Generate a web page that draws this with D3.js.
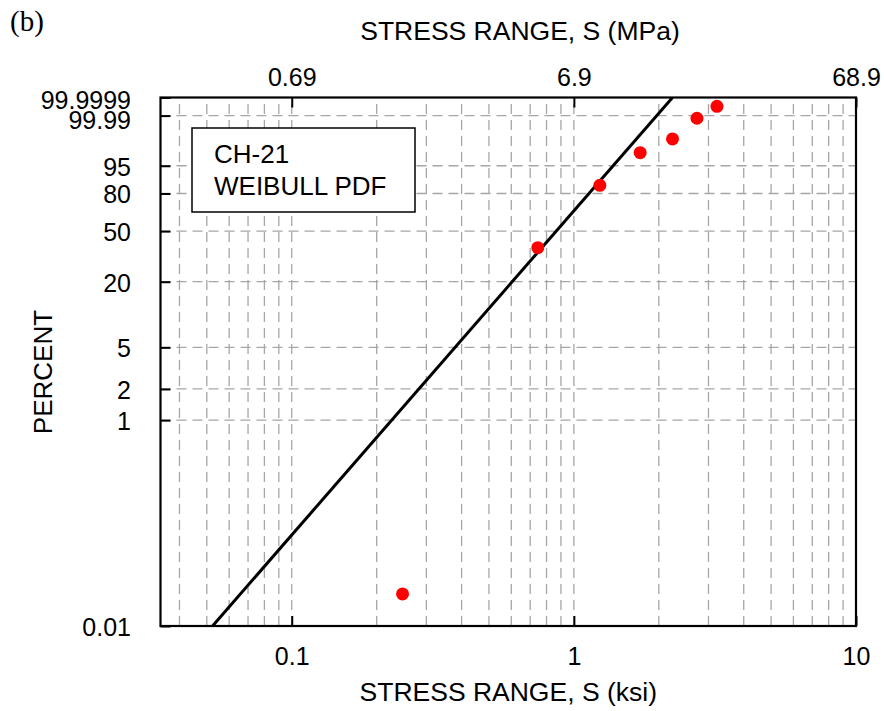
<!DOCTYPE html>
<html>
<head>
<meta charset="utf-8">
<script src="https://cdn.jsdelivr.net/npm/d3@7"></script>
<style>
  html, body { margin: 0; padding: 0; background: #fff; }
  svg { display: block; }
  text { font-family: Arial, "Liberation Sans", sans-serif; fill: #000; }
  text.serif { font-family: "Liberation Serif", "Times New Roman", serif; }
</style>
</head>
<body>
<svg id="chart" width="884" height="711"></svg>
<script>
// ---------------- data ----------------
const panelLabel = "(b)";
const legendLines = ["CH-21", "WEIBULL PDF"];

// measured stress ranges (ksi) and cumulative percent
const pointStress  = [0.247, 0.745, 1.236, 1.718, 2.237, 2.731, 3.215];
const pointPercent = [0.0205, 38.0, 85.5, 98.19, 99.574, 99.983, 99.9988];

// fitted Weibull line (two end points, ksi / percent)
const fitStress  = [0.0524, 2.237];
const fitPercent = [0.01, 99.9999];

// axis ticks
const xTicksKsi   = [0.1, 1, 10];
const xTickLabels = ["0.1", "1", "10"];
const topTicksMPa   = [0.6895, 6.895, 68.95];
const topTickLabels = ["0.69", "6.9", "68.9"];
const yTicks      = [0.01, 1, 2, 5, 20, 50, 80, 95, 99.99, 99.9999];
const yTickLabels = ["0.01", "1", "2", "5", "20", "50", "80", "95", "99.99", "99.9999"];

const xTitle = "STRESS RANGE, S (ksi)";
const topTitle = "STRESS RANGE, S (MPa)";
const yTitle = "PERCENT";
const KSI_TO_MPA = 6.895;

// ---------------- layout ----------------
const L = 160.5, R = 856, T = 97.5, B = 626;
const svg = d3.select("#chart");

const wb = p => Math.log(-Math.log(1 - p / 100));
const xMin = Math.pow(10, -1.4652);
const x = d3.scaleLog().domain([xMin, 10]).range([L, R]);
const xTop = d3.scaleLog().domain([xMin * KSI_TO_MPA, 10 * KSI_TO_MPA]).range([L, R]);
const y = d3.scaleLinear().domain([wb(0.01), wb(99.9999)]).range([B, T]);

// clip
svg.append("defs").append("clipPath").attr("id", "plotclip")
  .append("rect").attr("x", L).attr("y", T).attr("width", R - L).attr("height", B - T);

// ---------------- grid ----------------
const gridX = [];
for (let e = -2; e <= 1; e++) {
  for (let m = 1; m <= 9; m++) {
    const v = m * Math.pow(10, e);
    if (v > xMin * 1.001 && v < 10 * 0.999) gridX.push(v);
  }
}
const grid = svg.append("g").attr("stroke", "#a6a6a6").attr("stroke-width", 1.3)
  .attr("stroke-dasharray", "10,6").attr("fill", "none");
grid.selectAll("line.v").data(gridX).enter().append("line")
  .attr("class", "v")
  .attr("x1", d => x(d)).attr("x2", d => x(d))
  .attr("y1", B).attr("y2", T);
grid.selectAll("line.h").data(yTicks.slice(1, -1)).enter().append("line")
  .attr("class", "h")
  .attr("y1", d => y(wb(d))).attr("y2", d => y(wb(d)))
  .attr("x1", L).attr("x2", R);

// ---------------- axes ----------------
const tickLen = 10;
const fontTick = 25;

// bottom axis
const axB = d3.axisBottom(x).tickValues(xTicksKsi).tickSize(-tickLen)
  .tickFormat((d, i) => xTickLabels[i]);
const gB = svg.append("g").attr("transform", `translate(0,${B})`).call(axB);
gB.select(".domain").remove();
gB.selectAll(".tick line").attr("stroke", "#000").attr("stroke-width", 2);
gB.selectAll(".tick text").attr("font-size", fontTick).attr("y", 0).attr("dy", 0)
  .attr("transform", "translate(0,39)");

// top axis
const axT = d3.axisTop(xTop).tickValues(topTicksMPa).tickSize(-tickLen)
  .tickFormat((d, i) => topTickLabels[i]);
const gT = svg.append("g").attr("transform", `translate(0,${T})`).call(axT);
gT.select(".domain").remove();
gT.selectAll(".tick line").attr("stroke", "#000").attr("stroke-width", 2);
gT.selectAll(".tick text").attr("font-size", fontTick).attr("y", 0).attr("dy", 0)
  .attr("transform", "translate(0,-12)");

// left axis
const yLabelShift = { "99.99": 12.5, "99.9999": 10.5 };
const axL = d3.axisLeft(y).tickValues(yTicks.map(wb)).tickSize(-tickLen)
  .tickFormat((d, i) => yTickLabels[i]);
const gL = svg.append("g").attr("transform", `translate(${L},0)`).call(axL);
gL.select(".domain").remove();
gL.selectAll(".tick line").attr("stroke", "#000").attr("stroke-width", 2);
gL.selectAll(".tick text").attr("font-size", fontTick).attr("x", 0).attr("dy", 0)
  .attr("transform", (d, i) => `translate(-29.5,${yLabelShift[yTickLabels[i]] || 9.5})`)
  .attr("text-anchor", "end");

// frame
svg.append("rect").attr("x", L).attr("y", T).attr("width", R - L).attr("height", B - T)
  .attr("fill", "none").attr("stroke", "#000").attr("stroke-width", 2.2);

// ---------------- fit line ----------------
const fitData = fitStress.map((s, i) => [s, fitPercent[i]]);
const lineGen = d3.line().x(d => x(d[0])).y(d => y(wb(d[1])));
svg.append("path").datum(fitData)
  .attr("clip-path", "url(#plotclip)")
  .attr("d", lineGen)
  .attr("fill", "none").attr("stroke", "#000").attr("stroke-width", 3);

// ---------------- points ----------------
svg.append("g").selectAll("circle").data(pointStress.map((s, i) => [s, pointPercent[i]]))
  .enter().append("circle")
  .attr("cx", d => x(d[0])).attr("cy", d => y(wb(d[1])))
  .attr("r", 6.5).attr("fill", "#ff0000");

// ---------------- legend ----------------
svg.append("rect").attr("x", 192).attr("y", 128).attr("width", 223).attr("height", 84)
  .attr("fill", "#fff").attr("stroke", "#000").attr("stroke-width", 1.5);
svg.selectAll("text.leg").data(legendLines).enter().append("text")
  .attr("class", "leg")
  .attr("x", 214).attr("y", (d, i) => 163 + i * 32)
  .attr("font-size", 26).text(d => d);

// ---------------- titles ----------------
svg.append("text").attr("x", (L + R) / 2).attr("y", 701)
  .attr("text-anchor", "middle").attr("font-size", 26.5).text(xTitle);
svg.append("text").attr("x", 520).attr("y", 40)
  .attr("text-anchor", "middle").attr("font-size", 26.5).text(topTitle);
svg.append("text").attr("transform", "translate(52,372) rotate(-90)")
  .attr("text-anchor", "middle").attr("font-size", 26).text(yTitle);
svg.append("text").attr("class", "serif").attr("x", 10).attr("y", 31)
  .attr("font-size", 29).text(panelLabel);
</script>
</body>
</html>
